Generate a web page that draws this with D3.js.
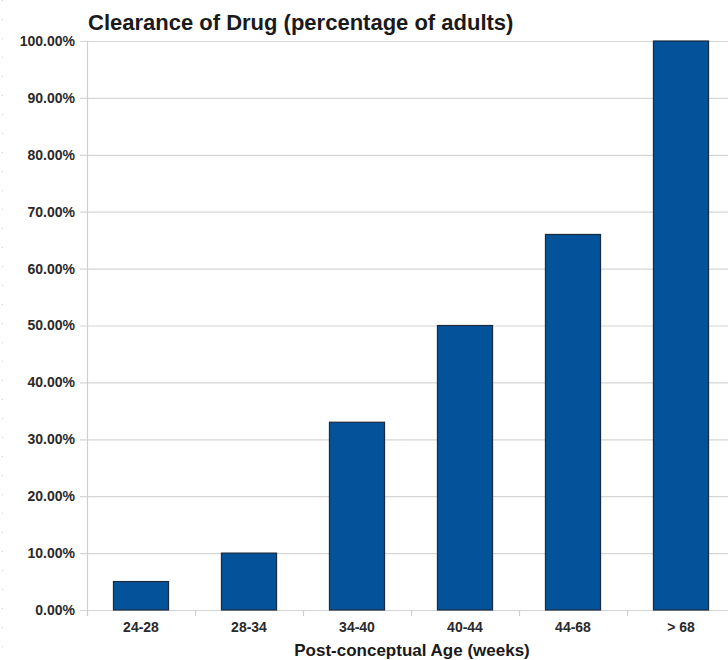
<!DOCTYPE html>
<html>
<head>
<meta charset="utf-8">
<script src="https://cdn.jsdelivr.net/npm/d3@7"></script>
<style>
  html, body { margin: 0; padding: 0; background: #fff; }
  svg { display: block; font-family: "Liberation Sans", Arial, sans-serif; }
</style>
</head>
<body>
<svg id="chart" width="728" height="660"></svg>
<script>
// Clearance by post-conceptual age group
const categories = ["24-28", "28-34", "34-40", "40-44", "44-68", "> 68"];
const clearance = [5, 10, 33, 50, 66, 100];
const yTicks = [0, 10, 20, 30, 40, 50, 60, 70, 80, 90, 100];

const svg = d3.select("#chart");
const margin = { left: 87, right: -7, top: 41, bottom: 50 };
const W = 728, H = 660;

const x = d3.scaleBand()
  .domain(categories)
  .range([margin.left, W - margin.right])
  .paddingInner(0.49)
  .paddingOuter(0.245);

const y = d3.scaleLinear()
  .domain([0, 100])
  .range([H - margin.bottom, margin.top]);

// faint dotted edge line at far left
svg.append("line")
  .attr("x1", 2.5).attr("x2", 2.5)
  .attr("y1", 0).attr("y2", H)
  .attr("stroke", "#cfcfcf")
  .attr("stroke-dasharray", "1,18");

// horizontal gridlines
svg.append("g")
  .selectAll("line")
  .data(yTicks)
  .join("line")
  .attr("x1", margin.left - 7)
  .attr("x2", W)
  .attr("y1", d => y(d) + 0.5)
  .attr("y2", d => y(d) + 0.5)
  .attr("stroke", "#d6d6d6")
  .attr("stroke-width", 1.2);

// y axis
const yAxis = svg.append("g")
  .attr("transform", `translate(${margin.left},0)`)
  .call(d3.axisLeft(y)
    .tickValues(yTicks)
    .tickSize(0)
    .tickPadding(12)
    .tickFormat(d => d3.format(".2f")(d) + "%"));
yAxis.select(".domain").remove();
yAxis.selectAll("text")
  .attr("font-size", 14)
  .attr("font-weight", "bold")
  .attr("fill", "#2a2a2a");

svg.append("line")
  .attr("x1", margin.left + 0.5).attr("x2", margin.left + 0.5)
  .attr("y1", y(100)).attr("y2", y(0) + 6)
  .attr("stroke", "#d0d0d0")
  .attr("stroke-width", 1.2);

// x axis tick marks at band boundaries
const step = x.step();
const bounds = d3.range(categories.length + 1).map(i => margin.left + i * step);
svg.append("g")
  .selectAll("line")
  .data(bounds)
  .join("line")
  .attr("x1", d => d + 0.5).attr("x2", d => d + 0.5)
  .attr("y1", y(0)).attr("y2", y(0) + 6)
  .attr("stroke", "#d0d0d0")
  .attr("stroke-width", 1.2);

// bars
svg.append("g")
  .selectAll("rect")
  .data(categories)
  .join("rect")
  .attr("x", d => x(d))
  .attr("width", x.bandwidth())
  .attr("y", (d, i) => y(clearance[i]))
  .attr("height", (d, i) => y(0) - y(clearance[i]))
  .attr("fill", "#03529a")
  .attr("stroke", "#1b2b3c")
  .attr("stroke-width", 1.2);

// x category labels
const xAxis = svg.append("g")
  .attr("transform", `translate(0,${y(0)})`)
  .call(d3.axisBottom(x).tickSize(0).tickPadding(12));
xAxis.select(".domain").remove();
xAxis.selectAll("text")
  .attr("font-size", 14)
  .attr("font-weight", "bold")
  .attr("fill", "#2a2a2a");

// axis title
svg.append("text")
  .attr("x", 412)
  .attr("y", 656)
  .attr("text-anchor", "middle")
  .attr("font-size", 17)
  .attr("font-weight", "bold")
  .attr("fill", "#1a1a1a")
  .text("Post-conceptual Age (weeks)");

// chart title
svg.append("text")
  .attr("x", 88)
  .attr("y", 30)
  .attr("font-size", 22)
  .attr("font-weight", "bold")
  .attr("fill", "#1a1a1a")
  .text("Clearance of Drug (percentage of adults)");
</script>
</body>
</html>
